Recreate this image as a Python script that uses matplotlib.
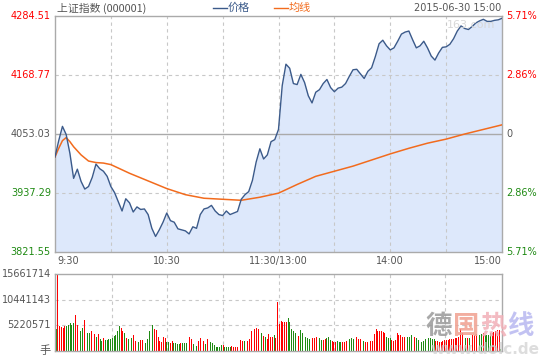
import numpy as np
import matplotlib
matplotlib.use("Agg")
import matplotlib.pyplot as plt
from matplotlib.lines import Line2D

# ---------------- data ----------------
prev_close = 4053.03
y_ticks = [4284.51, 4168.77, 4053.03, 3937.29, 3821.55]
pct_labels = ["5.71%", "2.86%", "0", "2.86%", "5.71%"]
x_tick_minutes = [0, 60, 120, 180, 240]
x_tick_labels = ["9:30", "10:30", "11:30/13:00", "14:00", "15:00"]

price_minutes = list(range(0, 241, 2))
prices = [4008, 4040, 4068, 4052, 4015, 3966, 3984, 3960, 3945, 3950,
          3968, 3994, 3985, 3980, 3970, 3950, 3938, 3920, 3902, 3926,
          3918, 3900, 3910, 3905, 3906, 3895, 3868, 3852, 3865, 3880,
          3898, 3883, 3880, 3867, 3865, 3863, 3857, 3871, 3868, 3895,
          3906, 3908, 3913, 3902, 3895, 3893, 3902, 3895, 3898, 3901,
          3925, 3934, 3940, 3962, 3998, 4024, 4004, 4012, 4038, 4042,
          4062, 4148, 4190, 4182, 4152, 4150, 4170, 4154, 4128, 4114,
          4135, 4140, 4152, 4160, 4144, 4136, 4143, 4145, 4152, 4166,
          4179, 4180, 4171, 4162, 4176, 4183, 4205, 4230, 4237, 4226,
          4218, 4222, 4235, 4249, 4253, 4255, 4238, 4222, 4226, 4235,
          4222, 4206, 4198, 4212, 4223, 4224, 4229, 4240, 4255, 4265,
          4260, 4258, 4264, 4271, 4275, 4278, 4274, 4274, 4276, 4277,
          4280]

avg_minutes = [0, 2, 4, 6, 8, 10, 14, 18, 22, 26, 30, 40, 50, 60, 70, 80,
               90, 100, 110, 120, 130, 140, 150, 160, 170, 180, 190, 200,
               210, 220, 230, 240]
avg_prices = [4008, 4025, 4040, 4046, 4038, 4028, 4012, 4000, 3997, 3996,
              3993, 3976, 3961, 3946, 3934, 3927, 3925, 3923, 3929, 3937,
              3954, 3970, 3980, 3990, 4002, 4014, 4025, 4035, 4043, 4053,
              4062, 4071]

# volume in units of 10,000 shares (万手)
volumes_wan = [
    451, 1566, 499, 479, 472, 513, 513, 527, 574, 527, 574, 739, 533, 431, 397, 465,
    636, 465, 356, 356, 410, 410, 349, 294, 342, 246, 205, 267, 226, 233, 239,
    239, 274, 315, 328, 410, 513, 465, 397, 362, 260, 246, 253, 260, 328, 205, 191,
    191, 226, 226, 191, 171, 246, 397, 431, 533, 445, 417, 294, 212, 191, 294, 260,
    191, 191, 171, 205, 171, 157, 144, 144, 171, 157, 157, 171, 171, 287, 246, 144,
    103, 103, 205, 260, 212, 205, 144, 246, 212, 191, 157, 123, 89, 89, 89, 116,
    116, 89, 89, 82, 89, 103, 89, 89, 89, 294, 226, 198, 198, 191, 212, 239,
    397, 445, 445, 465, 451, 431, 376, 315, 294, 246, 342, 294, 294, 328, 260,
    992, 554, 616, 595, 588, 588, 677, 581, 451, 397, 362, 342, 315, 431, 362, 287,
    280, 267, 253, 253, 274, 260, 294, 308, 260, 226, 226, 239, 274, 294, 226, 212,
    191, 191, 198, 191, 191, 191, 191, 212, 226, 253, 274, 246, 294, 280, 253, 246,
    205, 205, 178, 191, 191, 205, 212, 349, 451, 410, 410, 410, 390, 362, 294, 274,
    274, 226, 212, 226, 376, 328, 328, 294, 294, 315, 294, 280, 328, 294, 294, 274,
    226, 246, 191, 205, 246, 260, 260, 267, 239, 239, 198, 198, 191, 191, 205, 226,
    226, 226, 239, 239, 253, 274, 260, 294, 445, 362, 308, 260, 260, 260, 294, 321,
    321, 342, 362, 328, 349, 376, 328, 328, 328, 362, 376, 383, 410, 431, 431, 41]
volume_dirs = ("grrrrrgggggrrgggrrggrrrgrggrggg"
               "ggggggrrgrgggrrggrrrgggggrrrrrrr"
               "ggrrggggrggggrrgggrrrrgrrggggggg"
               "rggggrrrrrrrgrrrrrrrrggrgrrrrgr"
               "rrrrrrgggggrrggggggrrrrgggrrgggr"
               "rrgggrrrrggggrrrggrrrrrrrrrrrrgg"
               "grrrrrrrrggggrrggrggggggggrrrrrr"
               "rrrrrrrrrrggrgrrrrrggrggggrrrrrg")
vol_ticks = [15661714, 10441143, 5220571]
vol_tick_labels = ["15661714", "10441143", "5220571"]

# ---------------- style ----------------
RED = "#ff0000"
GREEN = "#1f8a13"
GREY_TXT = "#555555"
BORDER = "#aaaaaa"
GRID = "#c8c8c8"
LINE = "#3b5a8a"
AVG = "#f26b1d"
FILL = "#dde8fb"
CJK = ["Noto Sans CJK SC", "DejaVu Sans"]
plt.rcParams["font.family"] = ["DejaVu Sans", "Noto Sans CJK SC"]

fig = plt.figure(figsize=(5.4, 3.6), dpi=100)
fig.patch.set_facecolor("white")

L, R = 55 / 540, 502 / 540
ax = fig.add_axes([L, 1 - 252 / 360, R - L, (252 - 16) / 360])
axv = fig.add_axes([L, 1 - 351 / 360, R - L, (351 - 274) / 360])

# main price panel
ymin, ymax = y_ticks[-1], y_ticks[0]
ax.set_xlim(0, 240)
ax.set_ylim(ymin, ymax)
ax.fill_between(price_minutes, prices, ymin, color=FILL, lw=0, zorder=1)
for m in range(30, 240, 30):
    ax.axvline(m, color=GRID, lw=0.8, ls=(0, (3, 3)), zorder=2)
for v in (y_ticks[1], y_ticks[3]):
    ax.axhline(v, color=GRID, lw=0.8, ls=(0, (3, 3)), zorder=2)
ax.axhline(prev_close, color=BORDER, lw=1.0, zorder=2)
ax.plot(avg_minutes, avg_prices, color=AVG, lw=1.1, zorder=3)
ax.plot(price_minutes, prices, color=LINE, lw=1.0, zorder=4)

ax.set_xticks([])
ax.set_yticks([])
for s in ax.spines.values():
    s.set_color(BORDER)
    s.set_linewidth(1.0)

lab_colors = [RED, RED, GREY_TXT, GREEN, GREEN]
for v, c, p in zip(y_ticks, lab_colors, pct_labels):
    ax.annotate(f"{v:.2f}", xy=(0, v), xycoords=("axes fraction", "data"),
                xytext=(-3, 0), textcoords="offset points", ha="right",
                va="center", fontsize=7, color=c)
    ax.annotate(p, xy=(1, v), xycoords=("axes fraction", "data"),
                xytext=(3, 0), textcoords="offset points", ha="left",
                va="center", fontsize=7, color=c)

for m, t in zip(x_tick_minutes, x_tick_labels):
    ha = "left" if m == 0 else ("right" if m == 240 else "center")
    ax.annotate(t, xy=(m, ymin), xycoords="data", xytext=(2 if m == 0 else 0, -3),
                textcoords="offset points", ha=ha, va="top", fontsize=7,
                color=GREY_TXT)

ax.text(0.985, 0.985, "163.com", transform=ax.transAxes, ha="right", va="top",
        fontsize=8, color="#d8d8d8", zorder=5)

# header
hy = 1 - 8 / 360
fig.text(57 / 540, hy, "上证指数 (000001)", ha="left", va="center",
         fontsize=7.8, color=GREY_TXT, family=CJK)
fig.add_artist(Line2D([213 / 540, 227 / 540], [hy, hy], color=LINE, lw=1.0))
fig.text(228 / 540, hy, "价格", ha="left", va="center", fontsize=8,
         color=LINE, family=CJK)
fig.add_artist(Line2D([274 / 540, 288 / 540], [hy, hy], color=AVG, lw=1.0))
fig.text(289 / 540, hy, "均线", ha="left", va="center", fontsize=8,
         color=AVG, family=CJK)
fig.text(501 / 540, hy, "2015-06-30 15:00", ha="right", va="center",
         fontsize=7, color=GREY_TXT)

# volume panel
vols = np.array(volumes_wan) * 1e4
n = len(vols)
vx = np.linspace(0, 240, n)
vcol = [RED if d == "r" else GREEN for d in volume_dirs[:n]]
axv.set_xlim(-0.6, 240.6)
axv.set_ylim(0, vol_ticks[0])
for m in range(30, 240, 30):
    axv.axvline(m, color=GRID, lw=0.8, ls=(0, (3, 3)), zorder=1)
for v in vol_ticks[1:]:
    axv.axhline(v, color=GRID, lw=0.8, ls=(0, (3, 3)), zorder=1)
axv.bar(vx, vols, width=240 / (n - 1) * 0.5, color=vcol, lw=0, zorder=2)
axv.set_xticks([])
axv.set_yticks([])
for s in axv.spines.values():
    s.set_color(BORDER)
    s.set_linewidth(1.0)
for v, t in zip(vol_ticks, vol_tick_labels):
    axv.annotate(t, xy=(0, v), xycoords=("axes fraction", "data"),
                 xytext=(-3, 0), textcoords="offset points", ha="right",
                 va="center", fontsize=7, color=GREY_TXT)
axv.annotate("手", xy=(0, 0), xycoords="axes fraction", xytext=(-3, 0),
             textcoords="offset points", ha="right", va="center", fontsize=8,
             color=GREY_TXT, family=CJK)

# watermark
wm = [("德", "#9a9a9a"), ("国", "#f0a090"), ("热", "#f2b0b8"), ("线", "#b8b8f0")]
for i, (ch, c) in enumerate(wm):
    fig.text((426 + i * 27) / 540, 1 - 326 / 360, ch, ha="left", va="center",
             fontsize=19, fontweight="bold", color=c, alpha=0.85, family=CJK,
             zorder=10)
fig.text(430 / 540, 1 - 350 / 360, "www.dolc.de", ha="left", va="center",
         fontsize=11, fontweight="bold", color="#cfcfcf", alpha=0.7, zorder=10)

fig.savefig("out.png", dpi=100, facecolor="white")
